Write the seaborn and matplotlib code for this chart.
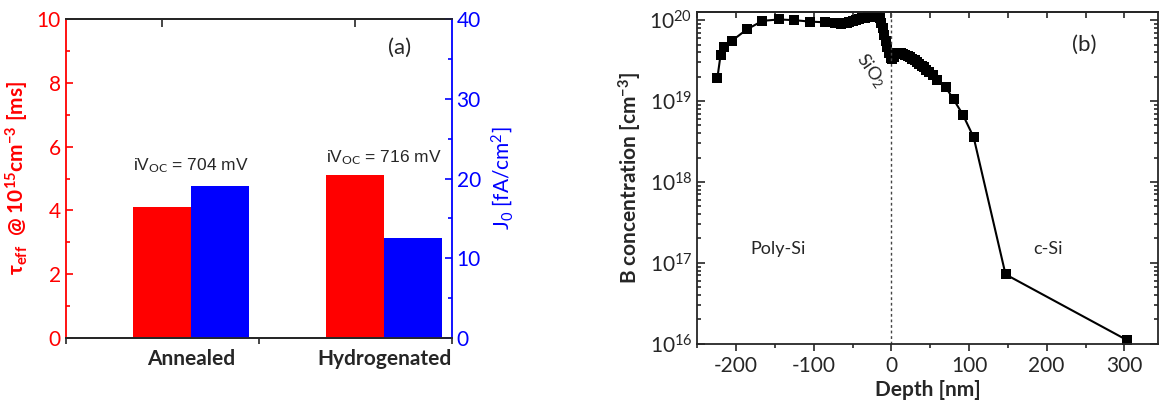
import matplotlib
matplotlib.use("Agg")
import matplotlib.pyplot as plt
import pandas as pd
import seaborn as sns
from matplotlib.ticker import FixedLocator, MultipleLocator, LogLocator, NullFormatter

# (a) lifetime / J0 bars
categories = ["Annealed", "Hydrogenated"]
tau_eff = [4.1, 5.1]        # ms, left axis
j0 = [19.0, 12.5]           # fA/cm2, right axis
ivoc = ["704", "716"]       # mV

# (b) SIMS boron profile
depth = [-224, -220, -215, -205, -186, -166, -145, -125, -105, -85,
         -73, -69, -65, -61, -57, -54, -50, -46, -42, -38, -34, -30, -26, -22,
         -18, -15, -13, -11, -9, -7, -5, -3, -1,
         1, 3, 6, 9, 12, 15, 18, 21, 24, 27, 30, 33, 36, 39, 42, 45, 48,
         53, 59, 70, 80, 92, 106, 147, 304]
b_conc = [1.95e19, 3.7e19, 4.7e19, 5.6e19, 7.7e19, 9.8e19, 1.02e20, 1.0e20, 9.6e19, 9.4e19,
          9.2e19, 9.1e19, 9.0e19, 9.1e19, 9.3e19, 9.6e19, 9.8e19, 1.0e20, 1.03e20, 1.05e20,
          1.07e20, 1.09e20, 1.10e20, 1.11e20,
          1.10e20, 1.05e20, 9.3e19, 7.9e19, 6.6e19, 5.5e19, 4.6e19, 3.9e19, 3.4e19,
          3.3e19, 3.5e19, 3.8e19, 3.9e19, 3.9e19, 3.8e19, 3.7e19, 3.6e19, 3.5e19, 3.35e19,
          3.2e19, 3.05e19, 2.9e19, 2.75e19, 2.6e19, 2.45e19, 2.3e19,
          2.1e19, 1.82e19, 1.48e19, 1.05e19, 6.8e18, 3.55e18, 7.2e16, 1.1e16]

sns.set_theme(style="ticks")
plt.rcParams['font.family'] = ['Lato', 'DejaVu Sans']
plt.rcParams['mathtext.fontset'] = 'custom'
plt.rcParams['mathtext.rm'] = 'Lato'
plt.rcParams['mathtext.it'] = 'Lato:italic'
plt.rcParams['mathtext.bf'] = 'Lato:bold'
plt.rcParams['axes.linewidth'] = 1.3
plt.rcParams['axes.unicode_minus'] = False

fig = plt.figure(figsize=(11.59, 4.16), dpi=100)

# ---------- panel (a) ----------
ax1 = fig.add_axes([0.0567, 0.1882, 0.3330, 0.7654])
bar_w = 0.3
idx = list(range(len(categories)))
df_tau = pd.DataFrame({"pos": [i - bar_w / 2 for i in idx], "value": tau_eff})
df_j0 = pd.DataFrame({"pos": [i + bar_w / 2 for i in idx], "value": j0})

sns.barplot(data=df_tau, x="pos", y="value", native_scale=True, width=bar_w,
            color="#ff0000", saturation=1, linewidth=0, ax=ax1)
ax2 = ax1.twinx()
sns.barplot(data=df_j0, x="pos", y="value", native_scale=True, width=bar_w,
            color="#0000ff", saturation=1, linewidth=0, ax=ax2)

ax1.set_xlim(-0.65, 1.35)
ax1.set_ylim(0, 10)
ax2.set_ylim(0, 40)
ax1.xaxis.set_major_locator(FixedLocator(idx))
ax1.set_xticklabels(categories, fontsize=15, fontweight="bold")
ax1.xaxis.set_minor_locator(FixedLocator([-0.65, 0.35, 1.35]))
ax1.tick_params(axis="x", which="major", length=0, pad=8)
ax1.tick_params(axis="x", which="minor", direction="out", length=4, width=1.2)
ax1.set_xlabel("")
top_a = ax1.secondary_xaxis("top")
top_a.set_xticks([-0.15, 0.85])
top_a.tick_params(direction="in", length=6, width=1.2, labeltop=False)

ax1.yaxis.set_major_locator(MultipleLocator(2))
ax1.yaxis.set_minor_locator(MultipleLocator(1))
ax1.tick_params(axis="y", which="both", direction="in", colors="red", labelsize=15, width=1.2)
ax1.tick_params(axis="y", which="major", length=5)
ax1.tick_params(axis="y", which="minor", length=3)
ax1.spines["left"].set_color("red")
ax1.spines["right"].set_visible(False)
ax1.set_ylabel(r"τ$_{\mathbf{eff}}$  @ 10$^{\mathbf{15}}$cm$^{\mathbf{-3}}$ [ms]",
               color="red", fontsize=15, fontweight="bold", labelpad=4)

ax2.yaxis.set_major_locator(MultipleLocator(10))
ax2.yaxis.set_minor_locator(MultipleLocator(5))
ax2.tick_params(axis="y", which="both", direction="in", colors="blue", labelsize=15, width=1.2)
ax2.tick_params(axis="y", which="major", length=5)
ax2.tick_params(axis="y", which="minor", length=3)
ax2.spines["right"].set_color("blue")
ax2.spines["left"].set_visible(False)
ax2.set_ylabel(r"J$_0$ [fA/cm$^2$]", color="blue", fontsize=15, labelpad=6)

iv_y = [5.39, 5.64]
for i, v in enumerate(ivoc):
    ax1.text(i, iv_y[i], r"iV$_{\rm OC}$ = " + v + " mV", ha="center", va="center", fontsize=12.5,
             family=["Liberation Sans", "DejaVu Sans"])
ax1.text(1.08, 9.1, "(a)", ha="center", va="center", fontsize=16)

# ---------- panel (b) ----------
ax3 = fig.add_axes([0.6016, 0.1738, 0.3973, 0.7966])
prof = pd.DataFrame({"depth": depth, "conc": b_conc})
sns.lineplot(data=prof, x="depth", y="conc", ax=ax3, color="black", linewidth=1.5,
             marker="s", markersize=7, markeredgecolor="black", markeredgewidth=0)
ax3.set_yscale("log")
ax3.axvline(0, color="#444444", linestyle=(0, (2, 2)), linewidth=1)
ax3.set_xlim(-250, 343)
ax3.set_ylim(1e16, 1.25e20)

ax3.xaxis.set_major_locator(MultipleLocator(100))
ax3.xaxis.set_minor_locator(MultipleLocator(50))
ax3.tick_params(axis="x", which="major", direction="out", length=5, width=1.2, labelsize=15)
ax3.tick_params(axis="x", which="minor", direction="out", length=3, width=1.2)
top_b = ax3.secondary_xaxis("top")
top_b.xaxis.set_major_locator(MultipleLocator(50))
top_b.tick_params(direction="in", length=4, width=1.2, labeltop=False)

ax3.yaxis.set_major_locator(LogLocator(base=10, numticks=10))
ax3.yaxis.set_minor_locator(LogLocator(base=10, subs=range(2, 10), numticks=20))
ax3.yaxis.set_minor_formatter(NullFormatter())
ax3.tick_params(axis="y", which="both", direction="in", left=True, right=True, labelsize=15, width=1.2)
ax3.tick_params(axis="y", which="major", length=6)
ax3.tick_params(axis="y", which="minor", length=3)

ax3.set_xlabel("Depth [nm]", fontsize=15, fontweight="bold", labelpad=3)
ax3.set_ylabel(r"B concentration [cm$^{\mathbf{-3}}$]", fontsize=15, fontweight="bold", labelpad=4)

ax3.text(249, 4.9e19, "(b)", ha="center", va="center", fontsize=16)
ax3.text(-146, 1.5e17, "Poly-Si", ha="center", va="center", fontsize=13)
ax3.text(202, 1.5e17, "c-Si", ha="center", va="center", fontsize=13)
ax3.text(-27, 2.4e19, r"SiO$_2$", ha="center", va="center", fontsize=13, rotation=-55)

fig.savefig("out.png", dpi=100)
